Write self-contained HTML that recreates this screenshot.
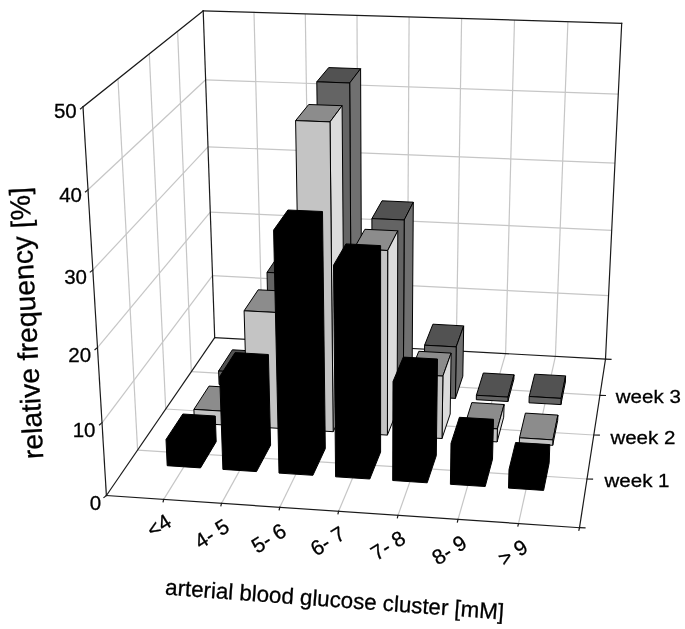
<!DOCTYPE html><html><head><meta charset="utf-8"><style>html,body{margin:0;padding:0;background:#fff}svg{display:block;filter:grayscale(1)}</style></head><body><svg width="685" height="629" viewBox="0 0 685 629">
<style>.g{stroke:#c6c6c6;stroke-width:1.2;fill:none}.a{stroke:#1a1a1a;stroke-width:1.2;fill:none;stroke-linecap:square}.b{stroke:#000;stroke-width:1;stroke-linejoin:round}text{font-family:"Liberation Sans",sans-serif;fill:#000;stroke:#000;stroke-width:0.3}</style>
<rect width="685" height="629" fill="#fff"/>
<path class="g" d="M163.7,499.4 L262.3,340.2"/>
<path class="g" d="M262.3,340.2 L254.0,12.4"/>
<path class="g" d="M221.5,503.4 L310.2,342.8"/>
<path class="g" d="M310.2,342.8 L305.3,13.9"/>
<path class="g" d="M279.8,507.3 L358.5,345.5"/>
<path class="g" d="M358.5,345.5 L357.0,15.4"/>
<path class="g" d="M338.6,511.3 L407.2,348.2"/>
<path class="g" d="M407.2,348.2 L409.1,16.9"/>
<path class="g" d="M398.0,515.4 L456.2,350.9"/>
<path class="g" d="M456.2,350.9 L461.6,18.5"/>
<path class="g" d="M458.0,519.5 L505.6,353.6"/>
<path class="g" d="M505.6,353.6 L514.5,20.1"/>
<path class="g" d="M518.5,523.6 L555.4,356.4"/>
<path class="g" d="M555.4,356.4 L567.9,21.7"/>
<path class="g" d="M137.6,450.1 L587.0,479.0"/>
<path class="g" d="M137.6,450.1 L118.0,78.9"/>
<path class="g" d="M165.7,409.0 L593.8,435.0"/>
<path class="g" d="M165.7,409.0 L149.3,53.9"/>
<path class="g" d="M191.3,371.6 L599.9,395.3"/>
<path class="g" d="M191.3,371.6 L177.6,31.3"/>
<path class="g" d="M102.0,422.8 L212.5,275.7"/>
<path class="g" d="M212.5,275.7 L608.6,295.6"/>
<path class="g" d="M97.5,347.6 L210.3,212.1"/>
<path class="g" d="M210.3,212.1 L611.7,230.3"/>
<path class="g" d="M92.8,270.0 L208.0,146.8"/>
<path class="g" d="M208.0,146.8 L615.0,163.2"/>
<path class="g" d="M88.0,189.8 L205.6,79.8"/>
<path class="g" d="M205.6,79.8 L618.3,94.2"/>
<path class="a" d="M106.4,495.5 L579.5,527.7"/>
<path class="a" d="M579.5,527.7 L605.5,359.1"/>
<path class="a" d="M605.5,359.1 L214.7,337.6"/>
<path class="a" d="M214.7,337.6 L106.4,495.5"/>
<path class="a" d="M106.4,495.5 L83.0,106.8"/>
<path class="a" d="M83.0,106.8 L203.2,10.8"/>
<path class="a" d="M203.2,10.8 L214.7,337.6"/>
<path class="a" d="M203.2,10.8 L621.7,23.3"/>
<path class="a" d="M621.7,23.3 L605.5,359.1"/>
<polygon points="218.6,371.0 249.1,372.7 262.0,351.5 232.4,349.8" fill="#525252" class="b"/>
<polygon points="249.4,386.3 262.4,364.7 262.0,351.5 249.1,372.7" fill="#707070" class="b"/>
<polygon points="219.1,384.5 249.4,386.3 249.1,372.7 218.6,371.0" fill="#646464" class="b"/>
<polygon points="267.0,272.4 298.3,274.0 310.3,255.0 279.8,253.5" fill="#525252" class="b"/>
<polygon points="300.3,389.3 311.9,367.6 310.3,255.0 298.3,274.0" fill="#707070" class="b"/>
<polygon points="269.7,387.5 300.3,389.3 298.3,274.0 267.0,272.4" fill="#646464" class="b"/>
<polygon points="316.8,81.8 349.7,83.0 360.6,68.7 328.7,67.6" fill="#525252" class="b"/>
<polygon points="351.6,392.3 361.8,370.4 360.6,68.7 349.7,83.0" fill="#707070" class="b"/>
<polygon points="320.8,390.5 351.6,392.3 349.7,83.0 316.8,81.8" fill="#646464" class="b"/>
<polygon points="371.9,218.6 404.2,220.0 413.3,202.2 382.0,200.8" fill="#525252" class="b"/>
<polygon points="403.3,395.4 412.1,373.3 413.3,202.2 404.2,220.0" fill="#707070" class="b"/>
<polygon points="372.2,393.5 403.3,395.4 404.2,220.0 371.9,218.6" fill="#646464" class="b"/>
<polygon points="424.6,345.2 456.2,346.9 463.7,325.9 432.9,324.2" fill="#525252" class="b"/>
<polygon points="455.4,398.4 462.8,376.2 463.7,325.9 456.2,346.9" fill="#707070" class="b"/>
<polygon points="424.1,396.6 455.4,398.4 456.2,346.9 424.6,345.2" fill="#646464" class="b"/>
<polygon points="476.4,395.3 508.0,397.1 514.0,374.8 483.3,373.0" fill="#525252" class="b"/>
<polygon points="507.9,401.5 513.9,379.1 514.0,374.8 508.0,397.1" fill="#707070" class="b"/>
<polygon points="476.3,399.7 507.9,401.5 508.0,397.1 476.4,395.3" fill="#646464" class="b"/>
<polygon points="529.2,396.5 561.1,398.4 565.6,375.9 534.7,374.2" fill="#525252" class="b"/>
<polygon points="560.9,404.6 565.4,382.0 565.6,375.9 561.1,398.4" fill="#707070" class="b"/>
<polygon points="529.0,402.8 560.9,404.6 561.1,398.4 529.2,396.5" fill="#646464" class="b"/>
<polygon points="193.9,409.4 225.7,411.3 240.0,387.9 209.0,386.1" fill="#8c8c8c" class="b"/>
<polygon points="226.2,425.1 240.4,401.4 240.0,387.9 225.7,411.3" fill="#dcdcdc" class="b"/>
<polygon points="194.4,423.2 226.2,425.1 225.7,411.3 193.9,409.4" fill="#c4c4c4" class="b"/>
<polygon points="244.1,310.8 276.9,312.5 290.1,291.4 258.2,289.8" fill="#8c8c8c" class="b"/>
<polygon points="279.5,428.4 292.2,404.5 290.1,291.4 276.9,312.5" fill="#dcdcdc" class="b"/>
<polygon points="247.5,426.4 279.5,428.4 276.9,312.5 244.1,310.8" fill="#c4c4c4" class="b"/>
<polygon points="295.6,120.6 330.0,121.9 342.1,105.7 308.7,104.5" fill="#8c8c8c" class="b"/>
<polygon points="333.2,431.7 344.5,407.6 342.1,105.7 330.0,121.9" fill="#dcdcdc" class="b"/>
<polygon points="300.9,429.7 333.2,431.7 330.0,121.9 295.6,120.6" fill="#c4c4c4" class="b"/>
<polygon points="353.8,248.9 387.7,250.5 397.8,230.8 364.9,229.3" fill="#8c8c8c" class="b"/>
<polygon points="387.4,435.1 397.1,410.8 397.8,230.8 387.7,250.5" fill="#dcdcdc" class="b"/>
<polygon points="354.8,433.1 387.4,435.1 387.7,250.5 353.8,248.9" fill="#c4c4c4" class="b"/>
<polygon points="409.6,374.2 442.9,376.1 451.1,353.1 418.8,351.3" fill="#8c8c8c" class="b"/>
<polygon points="442.0,438.5 450.2,414.0 451.1,353.1 442.9,376.1" fill="#dcdcdc" class="b"/>
<polygon points="409.2,436.5 442.0,438.5 442.9,376.1 409.6,374.2" fill="#c4c4c4" class="b"/>
<polygon points="464.2,426.9 497.4,428.9 504.1,404.5 471.8,402.6" fill="#8c8c8c" class="b"/>
<polygon points="497.1,441.9 503.7,417.2 504.1,404.5 497.4,428.9" fill="#dcdcdc" class="b"/>
<polygon points="464.0,439.8 497.1,441.9 497.4,428.9 464.2,426.9" fill="#c4c4c4" class="b"/>
<polygon points="519.5,437.8 552.9,439.9 557.9,415.1 525.4,413.1" fill="#8c8c8c" class="b"/>
<polygon points="552.7,445.3 557.7,420.4 557.9,415.1 552.9,439.9" fill="#dcdcdc" class="b"/>
<polygon points="519.3,443.3 552.7,445.3 552.9,439.9 519.5,437.8" fill="#c4c4c4" class="b"/>
<polygon points="167.2,465.7 200.5,467.9 216.2,441.7 215.3,416.0 182.8,414.0 166.0,439.5" fill="#000" class="b"/>
<polygon points="222.9,469.4 256.5,471.6 270.6,445.2 268.4,354.5 235.1,352.6 219.7,376.6" fill="#000" class="b"/>
<polygon points="279.0,473.1 312.9,475.3 325.3,448.6 322.5,211.5 287.9,210.0 273.6,230.1" fill="#000" class="b"/>
<polygon points="335.6,476.8 369.8,479.0 380.6,452.1 380.6,245.6 345.9,243.9 333.5,265.2" fill="#000" class="b"/>
<polygon points="392.7,480.5 427.2,482.8 436.3,455.6 437.5,359.0 403.3,357.1 393.0,381.5" fill="#000" class="b"/>
<polygon points="450.4,484.3 485.2,486.5 492.5,459.2 493.5,419.3 459.4,417.3 451.0,443.4" fill="#000" class="b"/>
<polygon points="508.5,488.1 543.6,490.4 549.2,462.8 549.8,444.6 515.6,442.5 509.0,469.5" fill="#000" class="b"/>
<path class="a" d="M106.4,495.5 L103.9,497.5"/>
<path class="a" d="M102.0,422.8 L99.5,424.8"/>
<path class="a" d="M97.5,347.6 L95.0,349.6"/>
<path class="a" d="M92.8,270.0 L90.3,272.0"/>
<path class="a" d="M88.0,189.8 L85.5,191.8"/>
<path class="a" d="M83.0,106.8 L80.5,108.8"/>
<path class="a" d="M163.7,499.4 L163.1,501.9"/>
<path class="a" d="M221.5,503.4 L220.9,505.9"/>
<path class="a" d="M279.8,507.3 L279.2,509.8"/>
<path class="a" d="M338.6,511.3 L338.0,513.8"/>
<path class="a" d="M398.0,515.4 L397.4,517.9"/>
<path class="a" d="M458.0,519.5 L457.4,522.0"/>
<path class="a" d="M518.5,523.6 L517.9,526.1"/>
<path class="a" d="M579.5,527.7 L578.9,530.2"/>
<path class="a" d="M579.5,527.7 L585.0,527.9"/>
<path class="a" d="M587.0,479.0 L592.5,479.2"/>
<path class="a" d="M593.8,435.0 L599.3,435.2"/>
<path class="a" d="M599.9,395.3 L605.4,395.5"/>
<path class="a" d="M605.5,359.1 L611.0,359.3"/>
<text x="101.2" y="510.1" font-size="20.5" text-anchor="end">0</text>
<text x="95.5" y="436.6" font-size="20.5" text-anchor="end">10</text>
<text x="91.1" y="361.8" font-size="20.5" text-anchor="end">20</text>
<text x="87.0" y="283.5" font-size="20.5" text-anchor="end">30</text>
<text x="82.0" y="201.5" font-size="20.5" text-anchor="end">40</text>
<text x="76.7" y="118.0" font-size="20.5" text-anchor="end">50</text>
<text transform="translate(158.8,525.4) rotate(-32)" font-size="21" text-anchor="middle" y="7.5">&lt;4</text>
<text transform="translate(211.6,533.6) rotate(-32)" font-size="21" text-anchor="middle" y="7.5">4- 5</text>
<text transform="translate(268.7,538.0) rotate(-32)" font-size="21" text-anchor="middle" y="7.5">5- 6</text>
<text transform="translate(327.5,540.8) rotate(-32)" font-size="21" text-anchor="middle" y="7.5">6- 7</text>
<text transform="translate(387.9,545.3) rotate(-32)" font-size="21" text-anchor="middle" y="7.5">7- 8</text>
<text transform="translate(449.2,549.9) rotate(-32)" font-size="21" text-anchor="middle" y="7.5">8- 9</text>
<text transform="translate(512.7,552.4) rotate(-32)" font-size="21" text-anchor="middle" y="7.5">&gt; 9</text>
<text transform="translate(604.5,487.2) scale(1.08,1)" font-size="19">week 1</text>
<text transform="translate(610.4,443.7) scale(1.08,1)" font-size="19">week 2</text>
<text transform="translate(615.8,403.3) scale(1.08,1)" font-size="19">week 3</text>
<text transform="translate(164.8,594.6) rotate(4.2)" font-size="22.3">arterial blood glucose cluster [mM]</text>
<text transform="translate(43.3,458.6) rotate(-93)" font-size="28.3">relative frequency [%]</text>
</svg></body></html>
